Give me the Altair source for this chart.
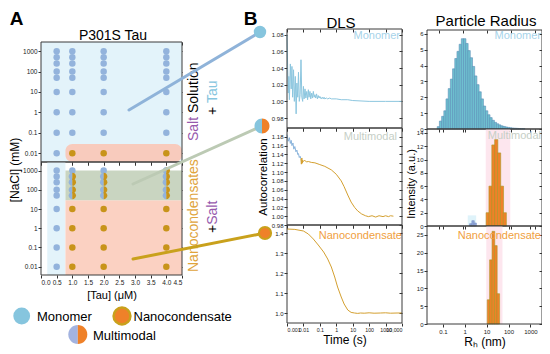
import altair as alt
import pandas as pd

FONT = "Liberation Sans"

# ---------------- A: phase diagrams ----------------
tau_um = [0.5, 1.0, 2.0, 4.0]
nacl_mm = [1000, 500, 250, 100, 50, 10, 1, 0.1, 0.01]
# one string per Tau column, one letter per NaCl level: M monomer, N nanocondensate, X multimodal
salt_solution_states = ["MMMMMMMMM", "MMMMMMMMN", "MMMMMMMMN", "MMMMMMMMN"]
nanocondensate_states = ["MMMMMMMMM", "MXXXXNNNN", "MXXXXNNNN", "XXXXXNNNN"]
# shaded regions: tau from, tau to, NaCl from, NaCl to, colour
salt_solution_regions = [[0.0, 4.5, 0.0037, 2800, "#e3f3fa"]]
salt_solution_band = [[0.78, 4.5, 0.0037, 0.028, "#f8cbbd"]]
nanocondensate_regions = [
    [0.2, 0.78, 0.0037, 2800, "#e3f3fa"],
    [0.78, 4.5, 0.0037, 29, "#fbd1c2"],
    [0.78, 4.5, 29, 1000, "#c9d5c1"],
]
tau_ticks = [0.0, 0.5, 1.0, 1.5, 2.0, 2.5, 3.0, 3.5, 4.0, 4.5]
nacl_ticks = [0.01, 0.1, 1, 10, 100, 1000]

# ---------------- B: DLS autocorrelation ----------------
time_ticks = [0.001, 0.01, 0.1, 1, 10, 100, 1000, 10000]
monomer_t = [0.001, 0.0011, 0.0012, 0.0013, 0.0014, 0.0016, 0.0018, 0.002, 0.0022, 0.0025,
             0.0028, 0.0032, 0.0036, 0.004, 0.0045, 0.005, 0.0056, 0.0063, 0.0071, 0.008,
             0.009, 0.01, 0.011, 0.0125, 0.014, 0.016, 0.018, 0.02, 0.022, 0.025,
             0.028, 0.032, 0.036, 0.04, 0.045, 0.05, 0.056, 0.063, 0.071, 0.08,
             0.09, 0.1, 0.12, 0.14, 0.16, 0.18, 0.2, 0.25, 0.3, 0.4,
             0.5, 1, 2, 5, 10, 100, 1000, 10000]
monomer_g = [1.080, 1.040, 1.010, 1.030, 1.002, 1.045, 1.015, 1.042, 1.005, 1.038,
             1.000, 1.030, 0.985, 1.022, 1.005, 1.035, 1.000, 1.008, 1.050, 1.005,
             1.000, 1.018, 1.003, 1.015, 1.004, 1.012, 1.002, 1.014, 1.005, 1.012,
             1.003, 1.010, 1.004, 1.012, 1.005, 1.008, 1.004, 1.009, 1.003, 1.007,
             1.004, 1.006, 1.003, 1.005, 1.003, 1.005, 1.003, 1.004, 1.003, 1.004,
             1.003, 1.003, 1.002, 1.002, 1.001, 1.000, 1.000, 1.000]
multimodal_blue_t = [0.001, 0.0012, 0.0014, 0.0016, 0.0018, 0.002, 0.0023, 0.0026,
                     0.003, 0.0035, 0.004, 0.0045, 0.005, 0.0056, 0.0063, 0.007]
multimodal_blue_g = [1.185, 1.170, 1.178, 1.165, 1.172, 1.160, 1.166, 1.152,
                     1.158, 1.146, 1.150, 1.140, 1.142, 1.133, 1.136, 1.130]
multimodal_gold_t = [0.007, 0.0075, 0.008, 0.0085, 0.009, 0.01, 0.012, 0.015, 0.02, 0.03,
                     0.05, 0.1, 0.2, 0.5, 1, 2, 3, 5, 8, 13,
                     20, 35, 60, 90, 150, 250, 400, 700, 1000, 1500, 2000, 3000]
multimodal_gold_g = [1.130, 1.118, 1.132, 1.120, 1.127, 1.124, 1.127, 1.123, 1.124, 1.122,
                     1.121, 1.117, 1.113, 1.105, 1.095, 1.080, 1.067, 1.048, 1.032, 1.020,
                     1.012, 1.005, 1.001, 0.999, 1.001, 0.998, 1.001, 0.999, 1.001, 0.999, 1.001, 1.000]
nano_t = [0.001, 0.003, 0.01, 0.02, 0.04, 0.08, 0.17, 0.3, 0.5, 0.8,
          1.2, 2, 3, 5, 8, 13, 20, 30, 50, 100,
          200, 500, 1000, 2000, 5000, 10000]
nano_g = [1.420, 1.418, 1.410, 1.395, 1.370, 1.340, 1.305, 1.270, 1.230, 1.180,
          1.130, 1.080, 1.045, 1.015, 1.003, 1.000, 0.998, 1.000, 0.999, 1.001,
          0.999, 1.000, 1.001, 0.999, 1.000, 1.000]

# ---------------- B: particle radius distributions ----------------
radius_ticks = [0.1, 1, 10, 100, 1000]
mono_r = [0.063, 0.079, 0.1, 0.126, 0.158, 0.2, 0.251, 0.316, 0.398, 0.501,
          0.631, 0.794, 1.0, 1.26, 1.58, 2.0, 2.51, 3.16, 3.98, 5.01,
          6.31, 7.94, 10.0, 12.6, 15.8, 20.0, 25.1, 31.6, 39.8, 50.1,
          63.1, 79.4, 100, 126, 158, 200, 251, 316, 398, 501]
mono_h = [0.15, 0.5, 0.8, 1.15, 1.9, 2.55, 3.15, 3.8, 4.45, 4.9,
          5.35, 5.7, 5.7, 5.4, 4.95, 4.5, 3.95, 3.35, 2.8, 2.35,
          1.9, 1.45, 1.15, 0.9, 0.72, 0.55, 0.42, 0.33, 0.26, 0.2,
          0.16, 0.13, 0.1, 0.08, 0.06, 0.05, 0.04, 0.03, 0.02, 0.015]
multi_blue_r = [1.9, 2.4, 3.0]
multi_blue_h = [0.35, 0.8, 0.45]
multi_gold_r = [11.2, 15.1, 20.4, 27.5, 37.2, 50.1, 67.6]
multi_gold_h = [2.0, 6.0, 12.2, 13.0, 11.0, 6.0, 2.0]
nano_r = [12.3, 15.8, 20.4, 26.3, 33.9]
nano_h = [6.8, 18.0, 26.0, 22.0, 8.5]

# ---------------- layout & styling ----------------
PLOT_W, PLOT_H = 534, 344
# panel frames in plot pixels: left, right, top, bottom
F_A_UP = [33, 174, 34, 154]
F_A_LO = [33, 174, 154, 267]
F_D = [[279, 394, 21, 120], [279, 394, 120, 217], [279, 394, 217, 315]]
F_R = [[419, 534, 22, 121], [419, 534, 121, 218], [419, 534, 218, 316]]

DOT_BLUE = "#93b3dc"
DOT_GOLD = "#c8941a"
ICON_BLUE = "#86c5de"
ORANGE = "#ef8129"
GOLD = "#c9a11c"
PURPLE = "#9659ad"
FRAME = "#3a3a3a"
LEFT_HALF = "M0,-1A1,1 0 0,0 0,1Z"
RIGHT_HALF = "M0,-1A1,1 0 0,1 0,1Z"

one = pd.DataFrame({"k": [0]})


def sx(domain, f, log=False):
    if log:
        return alt.Scale(type="log", domain=domain, range=[f[0], f[1]], nice=False)
    return alt.Scale(domain=domain, range=[f[0], f[1]], nice=False, zero=False)


def sy(domain, f, log=False):
    if log:
        return alt.Scale(type="log", domain=domain, range=[f[3], f[2]], nice=False)
    return alt.Scale(domain=domain, range=[f[3], f[2]], nice=False, zero=False)


def left_axis(f, values, title=None, size=6.5, tpad=2, tsize=11, **kw):
    return alt.Axis(orient="left", offset=-f[0], values=values, title=title,
                    labelFontSize=size, labelPadding=1, tickSize=3, titleFontSize=tsize,
                    titlePadding=tpad, labelOverlap=False, **kw)


def bottom_axis(f, values, labels, title=None, tsize=12, tpad=2, lsize=6.5, **kw):
    return alt.Axis(orient="bottom", offset=f[3] - PLOT_H, values=values, labels=labels,
                    title=title, labelFontSize=lsize, labelPadding=1, tickSize=3,
                    titleFontSize=tsize, titlePadding=tpad, labelOverlap=False, **kw)


def frame_layer(f, xdom, ydom, xlog, ylog, xvals, yvals):
    df = pd.DataFrame({"x0": [xdom[0]], "x1": [xdom[1]], "y0": [ydom[0]], "y1": [ydom[1]]})
    return alt.Chart(df).mark_rect(fillOpacity=0, stroke=FRAME, strokeWidth=1).encode(
        x=alt.X("x0:Q", scale=sx(xdom, f, xlog),
                axis=alt.Axis(orient="top", offset=-(f[2] + 3), values=xvals, labels=False,
                              title=None, tickSize=3)),
        x2=alt.X2("x1"),
        y=alt.Y("y0:Q", scale=sy(ydom, f, ylog),
                axis=alt.Axis(orient="right", offset=f[1] - 3 - PLOT_W, values=yvals,
                              labels=False, title=None, tickSize=3)),
        y2=alt.Y2("y1"))


def txt(text, x, y, size=12, color="#000000", angle=0, align="center",
        baseline="middle", weight="normal"):
    return alt.Chart(one).mark_text(
        text=text, fontSize=size, color=color, angle=angle, align=align,
        baseline=baseline, fontWeight=weight, font=FONT
    ).encode(x=alt.value(x), y=alt.value(y))


def seg(x1, y1, x2, y2, color, width=3):
    return alt.Chart(one).mark_rule(color=color, strokeWidth=width, strokeCap="round").encode(
        x=alt.value(x1), y=alt.value(y1), x2=alt.value(x2), y2=alt.value(y2))


def dot(x, y, size, fill, shape="circle", stroke=None, sw=0):
    kw = dict(shape=shape, size=size, fill=fill, fillOpacity=1, opacity=1, filled=True)
    if stroke:
        kw.update(stroke=stroke, strokeWidth=sw, strokeOpacity=1, filled=False)
    return alt.Chart(one).mark_point(**kw).encode(x=alt.value(x), y=alt.value(y))


def states_frame(states):
    rows = []
    for tau, codes in zip(tau_um, states):
        for nacl, c in zip(nacl_mm, codes):
            rows.append({"tau": tau, "nacl": nacl, "s": c})
    return pd.DataFrame(rows)


A_XDOM = [0, 4.5]
A_YDOM = [0.0037, 2800]


def a_panel(states, regions, band, f, bottom):
    xs, ys = sx(A_XDOM, f), sy(A_YDOM, f, True)
    xaxis = bottom_axis(f, tau_ticks, bottom, "[Tau] (μM)" if bottom else None,
                        tsize=11, tpad=4, format=".1f")
    yaxis = left_axis(f, nacl_ticks, format="~g")
    reg = pd.DataFrame(regions, columns=["x0", "x1", "y0", "y1", "c"])
    layers = [alt.Chart(reg).mark_rect().encode(
        x=alt.X("x0:Q", scale=xs, axis=xaxis), x2=alt.X2("x1"),
        y=alt.Y("y0:Q", scale=ys, axis=yaxis), y2=alt.Y2("y1"),
        color=alt.Color("c:N", scale=None))]
    if band:
        bd = pd.DataFrame(band, columns=["x0", "x1", "y0", "y1", "c"])
        layers.append(alt.Chart(bd).mark_rect(cornerRadius=7).encode(
            x=alt.X("x0:Q", scale=xs, axis=None), x2=alt.X2("x1"),
            y=alt.Y("y0:Q", scale=ys, axis=None), y2=alt.Y2("y1"),
            color=alt.Color("c:N", scale=None)))
    pts = alt.Chart(states_frame(states)).encode(
        x=alt.X("tau:Q", scale=xs, axis=None), y=alt.Y("nacl:Q", scale=ys, axis=None))
    layers += [
        pts.transform_filter(alt.datum.s == "M").mark_circle(size=42, color=DOT_BLUE, opacity=1),
        pts.transform_filter(alt.datum.s == "N").mark_circle(size=42, color=DOT_GOLD, opacity=1),
        pts.transform_filter(alt.datum.s == "X").mark_point(shape=LEFT_HALF, size=54, filled=True,
                                                            color=DOT_BLUE, opacity=1),
        pts.transform_filter(alt.datum.s == "X").mark_point(shape=RIGHT_HALF, size=54, filled=True,
                                                            color=DOT_GOLD, opacity=1),
        frame_layer(f, A_XDOM, A_YDOM, False, True, tau_ticks, nacl_ticks),
    ]
    return layers


D_XDOM = [0.001, 10000]
TIME_EXPR = "datum.value >= 10000 ? '10,000' : format(datum.value, '~g')"


def dls_panel(lines, f, ydom, yvals, yfmt, name, name_color, name_x, name_y, bottom, ytitle):
    xs, ys = sx(D_XDOM, f, True), sy(ydom, f)
    xaxis = bottom_axis(f, time_ticks, bottom, "Time (s)" if bottom else None,
                        lsize=5.3, labelExpr=TIME_EXPR)
    yaxis = left_axis(f, yvals, ytitle, size=6, tpad=3, tsize=11.5, format=yfmt)
    layers = []
    for i, (t, g, col) in enumerate(lines):
        df = pd.DataFrame({"t": t, "g": g})
        layers.append(alt.Chart(df).mark_line(color=col, strokeWidth=1).encode(
            x=alt.X("t:Q", scale=xs, axis=xaxis if i == 0 else None),
            y=alt.Y("g:Q", scale=ys, axis=yaxis if i == 0 else None)))
    layers.append(txt(name, name_x, name_y, size=11, color=name_color, align="right",
                      baseline="alphabetic"))
    layers.append(frame_layer(f, D_XDOM, ydom, True, False, time_ticks, yvals))
    return layers


R_XDOM = [0.032, 2000]


def radius_panel(bar_sets, shades, f, ydom, yvals, name, name_color, name_y, bottom):
    xs, ys = sx(R_XDOM, f, True), sy(ydom, f)
    xaxis = bottom_axis(f, radius_ticks, bottom, "Rₕ (nm)" if bottom else None,
                        lsize=6, format="~g")
    yaxis = left_axis(f, yvals, None, size=6, format="d")
    layers = []
    for r0, r1, top, c in shades:
        sd = pd.DataFrame({"r0": [r0], "r1": [r1], "y0": [ydom[0]], "y1": [top]})
        layers.append(alt.Chart(sd).mark_rect(color=c).encode(
            x=alt.X("r0:Q", scale=xs, axis=None), x2=alt.X2("r1"),
            y=alt.Y("y0:Q", scale=ys, axis=None), y2=alt.Y2("y1")))
    for i, (r, h, fill, stroke, size) in enumerate(bar_sets):
        df = pd.DataFrame({"r": r, "h": h})
        layers.append(alt.Chart(df).mark_bar(
            orient="vertical", size=size, fill=fill, stroke=stroke, strokeWidth=0.6,
            opacity=1).encode(
            x=alt.X("r:Q", scale=xs, axis=xaxis if i == 0 else None),
            y=alt.Y("h:Q", scale=ys, axis=yaxis if i == 0 else None)))
    layers.append(txt(name, f[1] - 1, name_y, size=11, color=name_color, align="right",
                      baseline="alphabetic"))
    layers.append(frame_layer(f, R_XDOM, ydom, True, False, radius_ticks, yvals))
    return layers


layers = []
layers += a_panel(salt_solution_states, salt_solution_regions, salt_solution_band, F_A_UP, False)
layers += a_panel(nanocondensate_states, nanocondensate_regions, None, F_A_LO, True)

layers += dls_panel([(monomer_t, monomer_g, "#8cc6df")], F_D[0], [0.968, 1.087],
                    [0.98, 1.0, 1.02, 1.04, 1.06, 1.08], ".2f", "Monomer", "#a6d3ea",
                    392, 31.3, False, None)
layers += dls_panel([(multimodal_blue_t, multimodal_blue_g, "#8ab4dc"),
                     (multimodal_gold_t, multimodal_gold_g, "#d4a030")], F_D[1], [0.98, 1.2],
                    [0.98, 1.0, 1.02, 1.04, 1.06, 1.08, 1.10, 1.12, 1.14, 1.16, 1.18], ".2f",
                    "Multimodal", "#c6cfc6", 389, 132, False, "Autocorrelation")
layers += dls_panel([(nano_t, nano_g, "#d4a030")], F_D[2], [0.95, 1.44],
                    [1.0, 1.1, 1.2, 1.3, 1.4], ".1f", "Nanocondensate", "#f0a040",
                    394, 230.5, True, None)

layers += radius_panel([(mono_r, mono_h, "#6fc1d0", "#5d8fb8", 2.4)], [], F_R[0], [0, 6.25],
                       [0, 1, 2, 3, 4, 5, 6], "Monomer", "#a6d3ea", 31.3, False)
layers += radius_panel([(multi_gold_r, multi_gold_h, ORANGE, "#a89a28", 3.2),
                        (multi_blue_r, multi_blue_h, "#8fa6d8", "#7a90c8", 2.4)],
                       [(1.6, 3.6, 1.6, "#dff3fa"), (9, 95, 14.6, "#fde6ee")], F_R[1], [0, 14.6],
                       [0, 2, 4, 6, 8, 10, 12, 14], "Multimodal", "#c6cfc6", 130.5, False)
layers += radius_panel([(nano_r, nano_h, ORANGE, "#a89a28", 2.7)], [(9.5, 45, 27.5, "#fde6ee")],
                       F_R[2], [0, 27.5], [0, 5, 10, 15, 20, 25], "Nanocondensate", "#f0a040",
                       230.5, True)

# annotations (plot pixels)
layers += [
    txt("A", 8.5, 16.5, size=19, weight="bold", baseline="alphabetic"),
    txt("B", 242.5, 16.5, size=19, weight="bold", baseline="alphabetic"),
    txt("P301S Tau", 105, 32, size=14, baseline="alphabetic"),
    txt("DLS", 333, 19.5, size=15, baseline="alphabetic"),
    txt("Particle Radius", 478, 17.5, size=15, baseline="alphabetic"),
    txt("[NaCl] (mM)", 7, 162, size=12, angle=270),
    txt("Intensity (a.u.)", 403.5, 176, size=11, angle=270),
    txt("Salt", 186, 133, size=14, color=PURPLE, angle=270, align="left"),
    txt("Solution", 186, 105, size=14, angle=270, align="left"),
    txt("+ ", 205, 107, size=14, angle=270, align="left"),
    txt("Tau", 205, 95, size=14, color=ICON_BLUE, angle=270, align="left"),
    txt("Nanocondensates", 186, 264, size=14, color="#e0a43c", angle=270, align="left"),
    txt("+", 205, 225, size=14, angle=270, align="left"),
    txt("Salt", 205, 216.8, size=14, color=PURPLE, angle=270, align="left"),
    seg(121, 102, 252, 24, "#8fb3d9"),
    dot(252, 24, 154, ICON_BLUE),
    seg(125, 176, 254, 118, "#bccab4"),
    dot(254, 118, 225, ICON_BLUE, shape=LEFT_HALF),
    dot(254, 118, 225, ORANGE, shape=RIGHT_HALF),
    seg(125, 251, 257, 225, GOLD),
    dot(257, 225, 150, ORANGE, stroke=GOLD, sw=2),
    dot(13.7, 308, 283, ICON_BLUE),
    txt("Monomer", 29, 309, size=13, align="left"),
    dot(114, 308, 283, ORANGE, stroke=GOLD, sw=2.5),
    txt("Nanocondensate", 125.5, 309, size=13, align="left"),
    dot(69.8, 326.5, 361, "#a3b3e0", shape=LEFT_HALF),
    dot(69.8, 326.5, 361, ORANGE, shape=RIGHT_HALF),
    txt("Multimodal", 85, 327.5, size=13, align="left"),
]

chart = alt.layer(*layers).resolve_scale(
    x="independent", y="independent"
).resolve_axis(
    x="independent", y="independent"
).properties(
    width=PLOT_W, height=PLOT_H, padding=0, autosize=alt.AutoSizeParams(type="none")
).configure_view(
    stroke="transparent"
).configure_axis(
    labelFont=FONT, titleFont=FONT, titleFontWeight="normal", domain=False, grid=False,
    tickColor="#333333", labelColor="#222222", titleColor="#000000"
).configure_text(font=FONT)

chart.save("out.html", embed_options={"renderer": "svg", "actions": False})
